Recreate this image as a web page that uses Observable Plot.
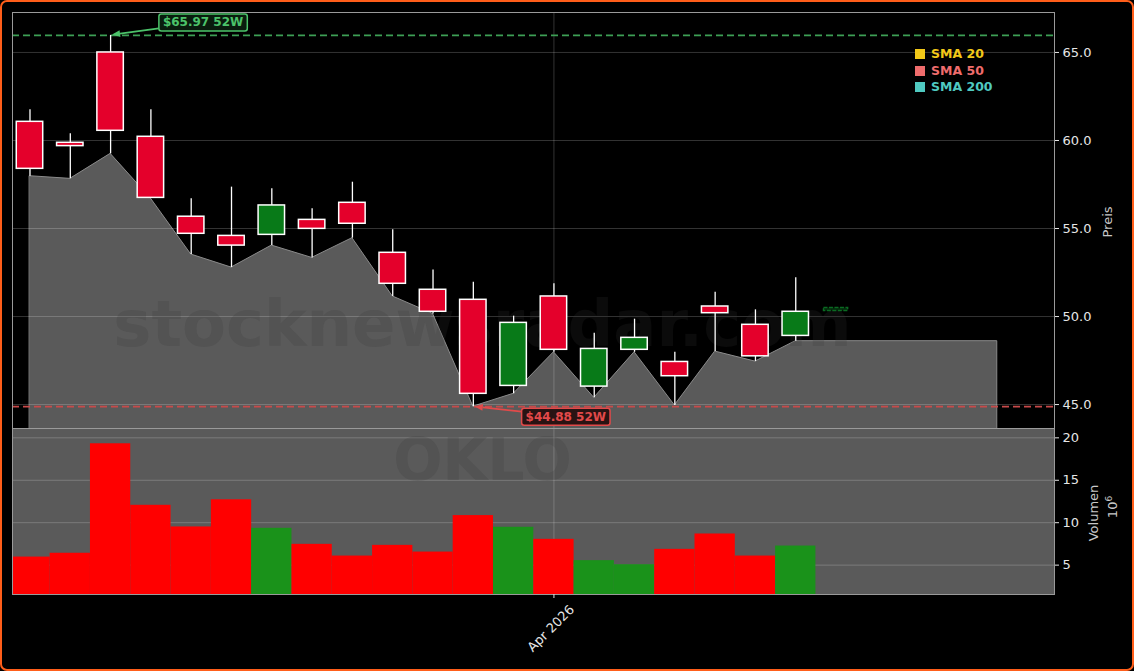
<!DOCTYPE html>
<html>
<head>
<meta charset="utf-8">
<script src="https://cdn.jsdelivr.net/npm/d3@7"></script>
<script src="https://cdn.jsdelivr.net/npm/@observablehq/plot@0.6"></script>
<style>
  html, body { margin: 0; padding: 0; background: #000; }
  #wrap { position: relative; width: 1134px; height: 671px; background: #000; overflow: hidden; font-family: "DejaVu Sans", sans-serif; }
  #price, #vol { position: absolute; left: 0; }
  #price { top: 0; }
  #vol { top: 428px; }
  #border { position: absolute; left: 0; top: 0; width: 1134px; height: 671px; box-sizing: border-box; border: 2px solid #ff5e1a; border-radius: 7px; pointer-events: none; }
  .legend { position: absolute; left: 915px; top: 46px; font: bold 12.5px "DejaVu Sans", sans-serif; }
  .legend div { height: 16.5px; line-height: 16.5px; white-space: nowrap; }
  .legend span.sw { display: inline-block; width: 10px; height: 10px; margin-right: 6px; vertical-align: -1px; }
  .alabel { position: absolute; color: #c8c8c8; font: 13px "DejaVu Sans", sans-serif; transform: translate(-50%, -50%) rotate(-90deg); white-space: nowrap; }
  .alabel sup { font-size: 9px; vertical-align: 5px; line-height: 0; }
</style>
</head>
<body>
<div id="wrap">
  <div id="price"></div>
  <div id="vol"></div>
  <div class="legend" id="legend"></div>
  <div class="alabel" style="left:1107px; top:222px;">Preis</div>
  <div class="alabel" style="left:1093px; top:513px;">Volumen</div>
  <div class="alabel" style="left:1112px; top:507px;">10<sup>6</sup></div>
  <div id="border"></div>
</div>
<script>
// ---------- data (weekly candles, index-based x) ----------
const open   = [61.06, 59.87, 65.00, 60.21, 55.67, 54.58, 54.64, 55.49, 56.46, 53.62, 51.52, 50.95, 46.06, 51.14, 46.02, 48.11, 47.42, 50.57, 49.53, 48.90];
const close  = [58.39, 59.68, 60.55, 56.74, 54.70, 54.03, 56.31, 54.98, 55.27, 51.86, 50.27, 45.61, 49.64, 48.11, 48.16, 48.79, 46.61, 50.19, 47.74, 50.27];
const high   = [61.74, 60.38, 65.97, 61.74, 56.69, 57.35, 57.26, 56.12, 57.63, 54.93, 52.65, 51.95, 50.02, 51.86, 49.05, 49.85, 47.97, 51.38, 50.38, 52.20];
const low    = [57.97, 57.82, 59.24, 56.70, 53.52, 52.78, 54.03, 53.33, 54.45, 51.14, 50.15, 44.88, 45.61, 47.97, 45.38, 47.97, 44.95, 48.01, 47.44, 48.60];
const volume = [5.95, 6.40, 19.30, 12.05, 9.50, 12.70, 9.34, 7.45, 6.07, 7.33, 6.54, 10.84, 9.46, 8.04, 5.53, 5.05, 6.86, 8.67, 6.07, 7.25]; // millions
const fillEnd = { i: 24, value: 48.60 };          // grey area runs flat to here
const pending = { i: 20, price: 50.40 };          // current (open) candle
const hi52 = 65.97, lo52 = 44.88;
const annotations = [
  { kind: "high", i: 2,  price: 65.97, label: "$65.97 52W" },
  { kind: "low",  i: 11, price: 44.88, label: "$44.88 52W" }
];
const priceTicks = [45, 50, 55, 60, 65];
const volTicks = [5, 10, 15, 20];
const xTicks = [{ i: 13, label: "Apr 2026" }];
const legendItems = ["SMA 20", "SMA 50", "SMA 200"];
const ticker = "OKLO";
const watermark = "stocknewsradar.com";

// ---------- styles ----------
const RED = "#e4002b", GREEN = "#087a18";
const VRED = "#ff0000", VGREEN = "#1a921a";
const legendColors = ["#f2c818", "#ef6c6c", "#4fc9c0"];
const annStyle = {
  high: { color: "#4cc36a", bg: "#0b1f10", dx: 93, dy: -12.5 },
  low:  { color: "#e24a4a", bg: "#240b0b", dx: 93, dy: 10.5 }
};
const xDomain = [-0.434, 25.42];
const baseStyle = { background: "transparent", color: "#e6e6e6", fontFamily: "'DejaVu Sans', sans-serif", fontSize: "13px", overflow: "visible" };

const candles = open.map((o, i) => ({ i, open: o, close: close[i], high: high[i], low: low[i], volume: volume[i], up: close[i] >= o }));
const fillData = [...low.map((v, i) => ({ i, v })), { i: fillEnd.i, v: fillEnd.value }];

// annotation render (uses Plot's scales)
function annotationMark(index, scales) {
  const g = d3.create("svg:g");
  const ctx = document.createElement("canvas").getContext("2d");
  ctx.font = "bold 12px 'DejaVu Sans'";
  for (const a of annotations) {
    const st = annStyle[a.kind];
    const px = scales.x(a.i), py = scales.y(a.price);
    const cx = px + st.dx, cy = py + st.dy;
    const w = ctx.measureText(a.label).width + 8, h = 17;
    const bx = cx - w / 2;
    const t = (cx - bx) / (cx - px);
    const sx = bx, sy = cy + (py - cy) * t;
    const ang = Math.atan2(py - sy, px - sx);
    const c = Math.cos(ang), s = Math.sin(ang);
    const ex = px - 2 * c, ey = py - 2 * s;
    const hl = 8, hw = 3.4;
    const hbx = ex - hl * c, hby = ey - hl * s;
    g.append("line").attr("x1", sx).attr("y1", sy).attr("x2", hbx).attr("y2", hby)
      .attr("stroke", st.color).attr("stroke-width", 1.8);
    g.append("path")
      .attr("d", `M${ex},${ey}L${hbx + hw * s},${hby - hw * c}L${hbx - hw * s},${hby + hw * c}Z`)
      .attr("fill", st.color);
    g.append("rect").attr("x", bx).attr("y", cy - h / 2).attr("width", w).attr("height", h)
      .attr("rx", 2.5).attr("fill", st.bg).attr("fill-opacity", 0.9)
      .attr("stroke", st.color).attr("stroke-width", 1.5);
    g.append("text").attr("x", cx).attr("y", cy).attr("text-anchor", "middle")
      .attr("dominant-baseline", "central").attr("fill", st.color)
      .attr("font-weight", "bold").attr("font-size", 12).attr("font-family", "'DejaVu Sans', sans-serif")
      .text(a.label);
  }
  return g.node();
}

const pricePlot = Plot.plot({
  width: 1134, height: 428,
  marginTop: 12, marginBottom: 0, marginLeft: 12, marginRight: 80,
  style: baseStyle,
  x: { domain: xDomain, axis: null },
  y: { domain: [43.64, 67.27], axis: null },
  color: { type: "identity" },
  marks: [
    Plot.areaY(fillData, { x: "i", y1: 0, y2: "v", fill: "#5a5a5a", stroke: "#8a8a8a", strokeWidth: 1, clip: true }),
    Plot.ruleY(priceTicks, { stroke: "#ffffff", strokeOpacity: 0.2 }),
    Plot.ruleX(xTicks, { x: "i", stroke: "#ffffff", strokeOpacity: 0.2 }),
    Plot.text([watermark], { frameAnchor: "middle", dx: -51, dy: 105, fontSize: 64, fontWeight: "bold", fill: "#363636", fillOpacity: 0.2 }),
    Plot.ruleY([hi52], { stroke: "#3d9f55", strokeWidth: 1.8, strokeDasharray: "7,4" }),
    Plot.ruleY([lo52], { stroke: "#c84a4a", strokeWidth: 1.8, strokeDasharray: "7,4" }),
    Plot.ruleX(candles, { x: "i", y1: "low", y2: "high", stroke: "#ffffff", strokeWidth: 1.3 }),
    Plot.rect(candles, { x1: d => d.i - 0.328, x2: d => d.i + 0.328, y1: "open", y2: "close", fill: d => d.up ? GREEN : RED, stroke: "#ffffff", strokeWidth: 1.5 }),
    Plot.rect([pending], { x1: d => d.i - 0.3, x2: d => d.i + 0.3, y1: "price", y2: "price", insetTop: -1.5, insetBottom: -1.5, fill: "#03260b", stroke: "#0b6a22", strokeWidth: 1.4, strokeDasharray: "4,1.5" }),
    annotationMark,
    Plot.frame({ stroke: "#9a9a9a" }),
    Plot.axisY({ anchor: "right", ticks: priceTicks, tickFormat: d => d.toFixed(1), tickSize: 4, tickPadding: 4, label: null, fontSize: 13 })
  ]
});
document.getElementById("price").appendChild(pricePlot);

const volPlot = Plot.plot({
  width: 1134, height: 243,
  marginTop: 0, marginBottom: 77, marginLeft: 12, marginRight: 80,
  style: baseStyle,
  x: { domain: xDomain, axis: null },
  y: { domain: [1.54, 21.1], axis: null },
  color: { type: "identity" },
  marks: [
    Plot.frame({ fill: "#5a5a5a", stroke: "none" }),
    Plot.ruleY(volTicks, { stroke: "#ffffff", strokeOpacity: 0.2 }),
    Plot.ruleX(xTicks, { x: "i", stroke: "#ffffff", strokeOpacity: 0.2 }),
    Plot.text([ticker], { frameAnchor: "middle", dx: -51, dy: -50, fontSize: 58, fontWeight: "bold", fill: "#363636", fillOpacity: 0.2 }),
    Plot.rect(candles, { x1: d => d.i - 0.5, x2: d => d.i + 0.5, y1: 0, y2: "volume", fill: d => d.up ? VGREEN : VRED, clip: true }),
    Plot.frame({ stroke: "#9a9a9a" }),
    Plot.axisY({ anchor: "right", ticks: volTicks, tickSize: 4, tickPadding: 4, label: null, fontSize: 13 }),
    Plot.axisX({ ticks: xTicks.map(d => d.i), tickSize: 4, tickFormat: () => "", label: null }),
    Plot.text(xTicks, { x: "i", text: "label", frameAnchor: "bottom", rotate: -45, dy: 37, fontSize: 13, fill: "#e6e6e6" })
  ]
});
document.getElementById("vol").appendChild(volPlot);

// legend
const leg = document.getElementById("legend");
legendItems.forEach((name, k) => {
  const row = document.createElement("div");
  row.style.color = legendColors[k];
  const sw = document.createElement("span");
  sw.className = "sw";
  sw.style.background = legendColors[k];
  row.appendChild(sw);
  row.appendChild(document.createTextNode(name));
  leg.appendChild(row);
});
</script>
</body>
</html>
